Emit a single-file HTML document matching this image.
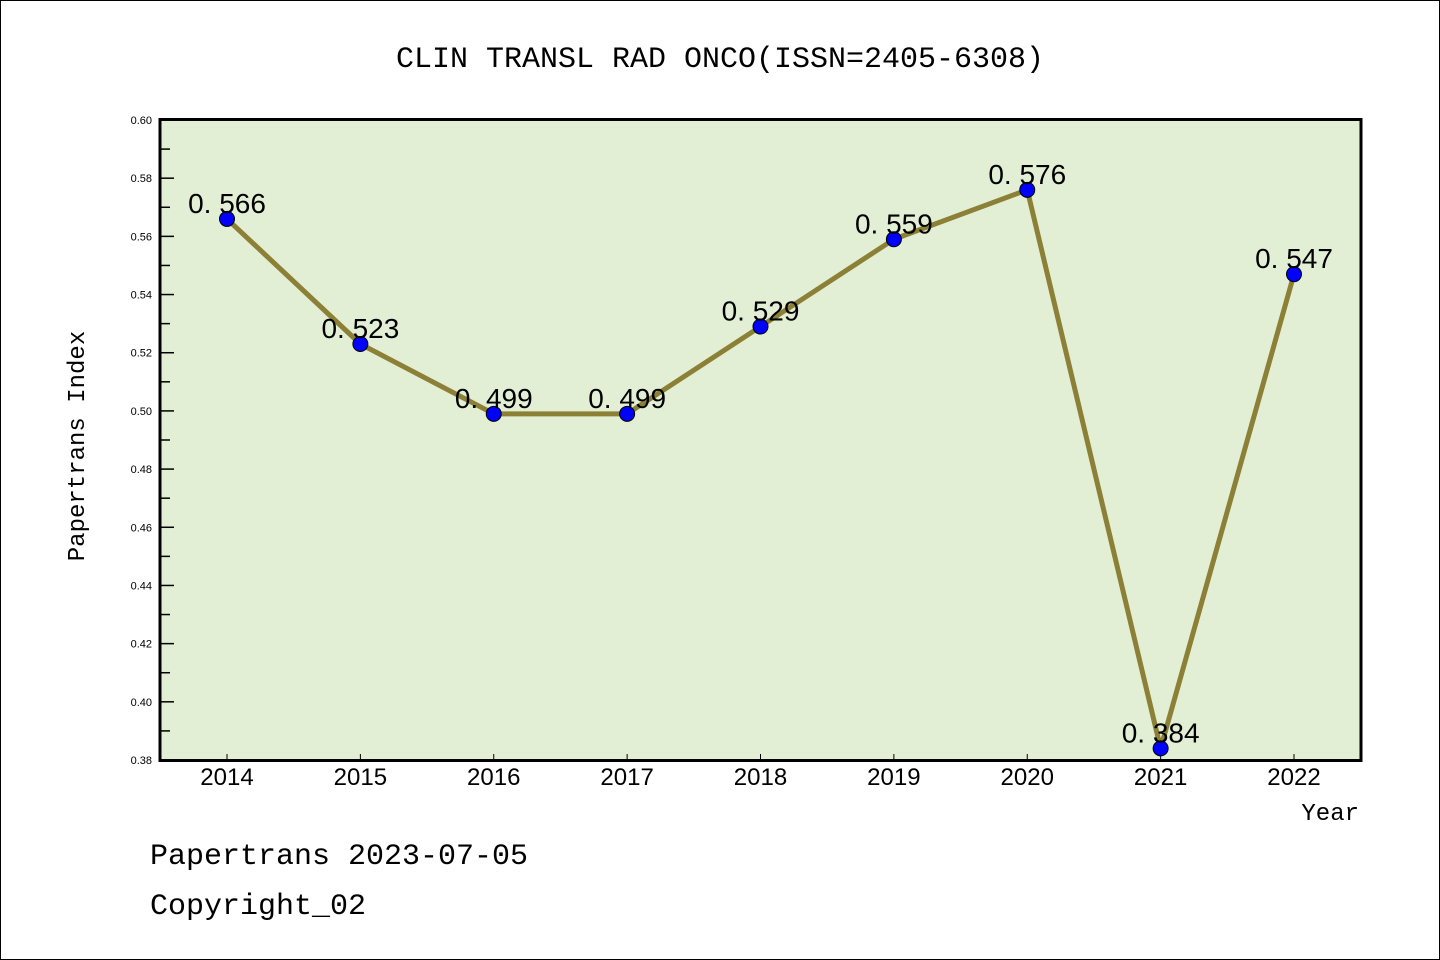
<!DOCTYPE html>
<html><head><meta charset="utf-8"><style>
body{margin:0;background:#fff}
svg{display:block;font-family:"Liberation Sans","WenQuanYi Zen Hei",sans-serif}
</style></head><body>
<svg width="1440" height="960" viewBox="0 0 1440 960">
<rect x="0.5" y="0.5" width="1439" height="959" fill="#fff" stroke="#000"/>
<text x="720" y="67" font-size="30" text-anchor="middle" font-family="'WenQuanYi Zen Hei','Liberation Mono',monospace">CLIN TRANSL RAD ONCO(ISSN=2405-6308)</text>
<rect x="160" y="119.5" width="1201" height="641" fill="#e2efd5"/>
<g id="yticks"></g><g id="xticks"></g>
<rect x="160" y="119.5" width="1201" height="641" fill="none" stroke="#000" stroke-width="3"/>
<g id="series"></g>
<text transform="translate(84,446) rotate(-90)" font-size="24" text-anchor="middle" font-family="'WenQuanYi Zen Hei','Liberation Mono',monospace">Papertrans Index</text>
<text x="1359" y="820" font-size="24" text-anchor="end" font-family="'WenQuanYi Zen Hei','Liberation Mono',monospace">Year</text>
<text x="150" y="864" font-size="30" font-family="'WenQuanYi Zen Hei','Liberation Mono',monospace">Papertrans 2023-07-05</text>
<text x="150" y="914" font-size="30" font-family="'WenQuanYi Zen Hei','Liberation Mono',monospace">Copyright_02</text>
</svg>
<script>
const years=["2014","2015","2016","2017","2018","2019","2020","2021","2022"];
const values=[0.566,0.523,0.499,0.499,0.529,0.559,0.576,0.384,0.547];
const valueLabels=["0. 566","0. 523","0. 499","0. 499","0. 529","0. 559","0. 576","0. 384","0. 547"];
const yTicks=[0.38,0.40,0.42,0.44,0.46,0.48,0.50,0.52,0.54,0.56,0.58,0.60];
const NS="http://www.w3.org/2000/svg";
const yMin=0.38,yMax=0.60;
function ys(v){return 760-(v-yMin)/(yMax-yMin)*640;}
function xs(i){return 227+i*(1294-227)/(years.length-1);}
function mk(t,a,p){const e=document.createElementNS(NS,t);for(const k in a)e.setAttribute(k,a[k]);p.appendChild(e);return e;}
const yg=document.getElementById('yticks');
yTicks.forEach((v,i)=>{
  const y=ys(v);
  const l=mk('line',{x1:160,x2:174,y1:y,y2:y,stroke:'#000','stroke-width':1.5},yg);
  
  
  const t=mk('text',{x:152,y:y+4,'font-size':11,'text-anchor':'end'},yg);
  t.textContent=v.toFixed(2);
  
  
  if(i<yTicks.length-1){
    const ym=ys(v+0.01);
    const m=mk('line',{x1:160,x2:170,y1:ym,y2:ym,stroke:'#000','stroke-width':1.5},yg);
    
    
  }
});
const xg=document.getElementById('xticks');
years.forEach((yr,i)=>{
  const x=xs(i);
  const l=mk('line',{x1:x,x2:x,y1:754,y2:760,stroke:'#000','stroke-width':1},xg);
  
  
  const t=mk('text',{x:x,y:785,'font-size':24,'text-anchor':'middle'},xg);
  t.textContent=yr;
  
  
});
const sg=document.getElementById('series');
const line=mk('polyline',{points:values.map((v,i)=>xs(i)+','+ys(v)).join(' '),fill:'none',stroke:'#8b8035','stroke-width':5,'stroke-linejoin':'round'},sg);


values.forEach((v,i)=>{
  const c=mk('circle',{cx:xs(i),cy:ys(v),r:7.5,fill:'#0000ff',stroke:'#000','stroke-width':1},sg);
  
  
  const t=mk('text',{x:xs(i),y:ys(v)-6,'font-size':28,'text-anchor':'middle'},sg);
  t.textContent=valueLabels[i];
  
  
});
</script>
</body></html>
